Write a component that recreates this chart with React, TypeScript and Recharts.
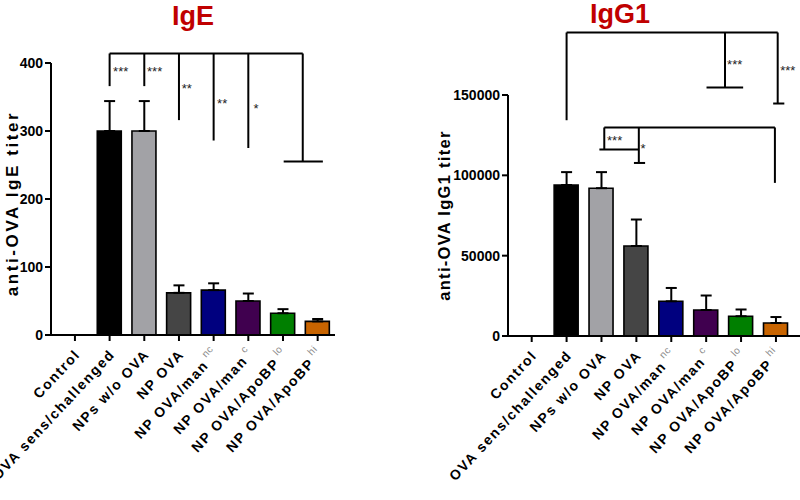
import React from "react";
import {
  ComposedChart,
  Bar,
  Cell,
  Scatter,
  XAxis,
  YAxis,
  ErrorBar,
  ReferenceLine,
  ReferenceDot,
  Label,
} from "recharts";

const groups = [
  "Control",
  "OVA sens/challenged",
  "NPs w/o OVA",
  "NP OVA",
  "NP OVA/man",
  "NP OVA/man",
  "NP OVA/ApoBP",
  "NP OVA/ApoBP",
];
const supers = ["", "", "", "", "nc", "c", "lo", "hi"];
const barColors = ["#ffffff", "#000000", "#a2a2a6", "#454545", "#00007f", "#40004f", "#007f00", "#c86400"];

const igeMean = [0, 300, 300, 62, 66, 50, 32, 20];
const igeErr = [0, 44, 44, 11, 10, 11, 6, 3.5];
const igg1Mean = [0, 94000, 92000, 56000, 21600, 16200, 12300, 8100];
const igg1Err = [0, 8000, 10000, 16500, 8300, 9000, 4200, 3700];

const igeTicks = [0, 100, 200, 300, 400];
const igg1Ticks = [0, 50000, 100000, 150000];

// significance brackets: [x1, y1, x2, y2] in category-index / value units
const igeBrackets = [
  [1, 414, 6.57, 414],
  [1, 414, 1, 366],
  [2, 414, 2, 366],
  [3, 414, 3, 316],
  [4, 414, 4, 286],
  [5, 414, 5, 275],
  [6.57, 414, 6.57, 255],
  [6.02, 255, 7.15, 255],
];
const igeStars: [string, number, number][] = [
  ["***", 1.1, 388],
  ["***", 2.08, 388],
  ["**", 3.08, 362],
  ["**", 4.1, 341],
  ["*", 5.15, 333],
];
const igg1Brackets = [
  [1, 188900, 7.05, 188900],
  [1, 188900, 1, 134300],
  [5.54, 188900, 5.54, 154700],
  [5.01, 154700, 6.06, 154700],
  [7.05, 188900, 7.05, 144700],
  [6.92, 144700, 7.24, 144700],
  [2.08, 129800, 6.97, 129800],
  [2.08, 129800, 2.08, 116100],
  [1.94, 116100, 3.07, 116100],
  [3.07, 129800, 3.07, 107700],
  [2.93, 107700, 3.25, 107700],
  [6.97, 129800, 6.97, 95300],
];
const igg1Stars: [string, number, number][] = [
  ["***", 5.6, 169000],
  ["***", 7.12, 165500],
  ["***", 2.16, 121800],
  ["*", 3.12, 116800],
];

const FONT = "'Liberation Sans', Arial, sans-serif";

// upper-only SEM whiskers: centre the whisker between mean and mean+err
const buildData = (mean: number[], err: number[]) =>
  groups.map((g, i) => ({
    key: `${g}|${i}`,
    idx: i,
    value: mean[i],
    eMid: mean[i] + err[i] / 2,
    eHalf: err[i] / 2,
  }));

const CatTick = ({ x, y, payload }: any) => {
  const i = Number(String(payload.value).split("|")[1]);
  return (
    <g transform={`translate(${x + 6},${y + 12}) rotate(-47)`}>
      <text
        x={0}
        y={0}
        textAnchor="end"
        fontSize={14}
        fontWeight="bold"
        fontFamily={FONT}
        letterSpacing={1.6}
        fill="#000"
      >
        {groups[i]}
        {supers[i] ? (
          <tspan dy={-8} fontSize={10} fontWeight="normal" fill="#8a8a8a" letterSpacing={0.5}>
            {" " + supers[i]}
          </tspan>
        ) : null}
      </text>
    </g>
  );
};

const yTitle = (text: string, cx: number, cy: number, size: number, spacing: number) => (props: any) => {
  const vb = props.viewBox || { x: 0, y: 0, height: 0 };
  const x = vb.x + cx;
  const y = vb.y + vb.height / 2 + cy;
  return (
    <text
      x={x}
      y={y}
      transform={`rotate(-90, ${x}, ${y})`}
      textAnchor="middle"
      dominantBaseline="central"
      fontSize={size}
      fontWeight="bold"
      fontFamily={FONT}
      letterSpacing={spacing}
      fill="#000"
    >
      {text}
    </text>
  );
};

interface PanelProps {
  mean: number[];
  err: number[];
  ticks: number[];
  brackets: number[][];
  stars: [string, number, number][];
  title: string;
  margin: { top: number; right: number; left: number; bottom: number };
  yWidth: number;
  xHeight: number;
  pad: { left: number; right: number };
  labelX: number;
  labelY: number;
  labelSize: number;
  spacing: number;
}

function Panel(p: PanelProps) {
  const data = buildData(p.mean, p.err);
  const top = p.ticks[p.ticks.length - 1];
  return (
    <ComposedChart width={400} height={500} data={data} margin={p.margin}>
      <XAxis
        dataKey="key"
        interval={0}
        padding={p.pad}
        height={p.xHeight}
        tick={<CatTick />}
        tickSize={6}
        tickLine={{ stroke: "#000", strokeWidth: 2 }}
        axisLine={{ stroke: "#000", strokeWidth: 2 }}
      />
      <XAxis
        xAxisId="n"
        dataKey="idx"
        type="number"
        domain={[-0.5, 7.5]}
        allowDataOverflow
        padding={p.pad}
        hide
      />
      <YAxis
        domain={[0, top]}
        ticks={p.ticks}
        width={p.yWidth}
        tickSize={6}
        interval={0}
        tick={{ fontSize: 14, fontWeight: "bold", fill: "#000", fontFamily: FONT }}
        tickLine={{ stroke: "#000", strokeWidth: 2 }}
        axisLine={{ stroke: "#000", strokeWidth: 2 }}
      >
        <Label content={yTitle(p.title, p.labelX, p.labelY, p.labelSize, p.spacing)} />
      </YAxis>
      <Bar dataKey="value" barSize={24} stroke="#000" strokeWidth={1.6} isAnimationActive={false}>
        {data.map((d, i) => (
          <Cell key={d.key} fill={barColors[i]} />
        ))}
      </Bar>
      <Scatter dataKey="eMid" shape={() => <g />} legendType="none" isAnimationActive={false}>
        <ErrorBar dataKey="eHalf" width={5.5} strokeWidth={2} stroke="#000" direction="y" />
      </Scatter>
      {p.brackets.map((b, i) => (
        <ReferenceLine
          key={`b${i}`}
          xAxisId="n"
          ifOverflow="visible"
          stroke="#000"
          strokeWidth={2}
          segment={[
            { x: b[0], y: b[1] },
            { x: b[2], y: b[3] },
          ]}
        />
      ))}
      {p.stars.map((s, i) => (
        <ReferenceDot
          key={`s${i}`}
          xAxisId="n"
          x={s[1]}
          y={s[2]}
          r={0}
          fill="none"
          stroke="none"
          ifOverflow="visible"
          label={{ value: s[0], position: "right", offset: 0, fontSize: 13, fill: "#222", fontFamily: FONT }}
        />
      ))}
    </ComposedChart>
  );
}

const titleStyle: React.CSSProperties = {
  position: "absolute",
  textAlign: "center",
  fontFamily: FONT,
  fontWeight: "bold",
  fontSize: 27,
  lineHeight: "32px",
  color: "#c00000",
};

export default function App() {
  return (
    <div style={{ position: "absolute", left: 0, top: 0, width: 800, height: 500, background: "#fff" }}>
      <div style={{ ...titleStyle, left: 153, top: 0, width: 80 }}>IgE</div>
      <div style={{ ...titleStyle, left: 570, top: -2, width: 100 }}>IgG1</div>
      <div style={{ position: "absolute", left: 0, top: 0 }}>
        <Panel
          mean={igeMean}
          err={igeErr}
          ticks={igeTicks}
          brackets={igeBrackets}
          stars={igeStars}
          title="anti-OVA IgE titer"
          margin={{ top: 63, right: 65, left: 0, bottom: 0 }}
          yWidth={51}
          xHeight={165}
          pad={{ left: 6.6, right: 0 }}
          labelX={12}
          labelY={4.5}
          labelSize={17}
          spacing={2.6}
        />
      </div>
      <div style={{ position: "absolute", left: 400, top: 0 }}>
        <Panel
          mean={igg1Mean}
          err={igg1Err}
          ticks={igg1Ticks}
          brackets={igg1Brackets}
          stars={igg1Stars}
          title="anti-OVA IgG1 titer"
          margin={{ top: 95, right: 0, left: 0, bottom: 0 }}
          yWidth={108}
          xHeight={164}
          pad={{ left: 6.25, right: 6.6 }}
          labelX={44}
          labelY={0}
          labelSize={16.5}
          spacing={1.3}
        />
      </div>
    </div>
  );
}
